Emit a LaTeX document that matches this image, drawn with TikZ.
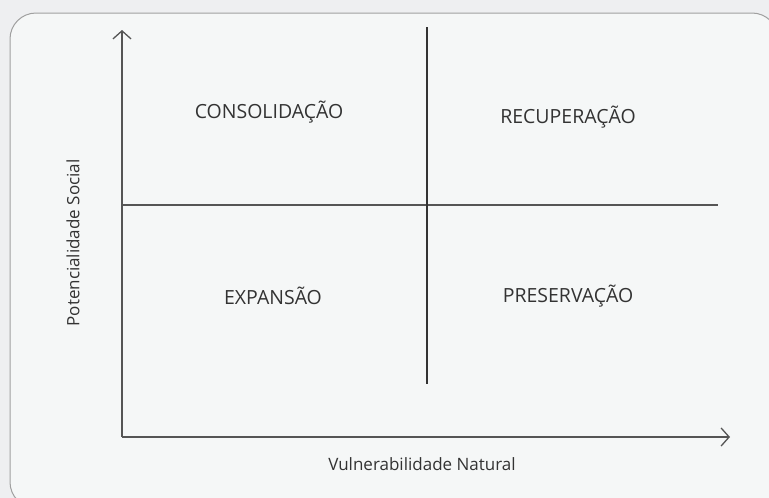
\documentclass[tikz,border=0pt]{standalone}
\usepackage{fontspec}
\setmainfont{Open Sans}
\usetikzlibrary{arrows.meta}
\definecolor{outerbg}{HTML}{EEEFF1}
\definecolor{innerbg}{HTML}{F5F7F7}
\definecolor{frameln}{HTML}{A0A0A0}
\definecolor{axisln}{HTML}{555555}
\definecolor{txt}{HTML}{333333}
\begin{document}
\begin{tikzpicture}[x=1pt,y=-1pt,
    axis/.style={axisln,line width=1.3pt},
    quad/.style={txt,font=\fontsize{19.5}{23}\selectfont},
    lbl/.style={txt,font=\fontsize{17}{20}\selectfont}]
        \fill[outerbg] (0,0) rectangle (769,498);
        \useasboundingbox (0,0) rectangle (769,498);
        \begin{scope}
          \clip (0,0) rectangle (769,498);
          \draw[frameln,fill=innerbg,line width=1pt,rounded corners=26pt] (10,13) rectangle (778,508);
        \end{scope}
        % axes
        \coordinate (origin) at (122,437);
        \coordinate (ytip) at (122,30);
        \coordinate (xtip) at (730,437);
        \coordinate (hleft) at (122,205);
        \coordinate (hright) at (718,205);
        \coordinate (vtop) at (427,27);
        \coordinate (vbot) at (427,384);
        \draw[axis,-{Straight Barb[length=8pt,width=18pt]}] (origin) -- (ytip);
        \draw[axis,-{Straight Barb[length=8pt,width=18pt]}] (origin) -- (xtip);
        \draw[axis] (hleft) -- (hright);
        \draw[axis,black!80] (vtop) -- (vbot);

        \node[quad] (consol) at (269,112) {CONSOLIDAÇÃO};
        \node[quad] (recup) at (568,117) {RECUPERAÇÃO};
        \node[quad] (expan) at (273,296) {EXPANSÃO};
        \node[quad] (preserv) at (568,296) {PRESERVAÇÃO};
        \node[lbl] (vuln) at (422,464) {Vulnerabilidade Natural};
        \node[lbl,rotate=90] (potenc) at (73,243) {Potencialidade Social};

      \end{tikzpicture}
\end{document}
